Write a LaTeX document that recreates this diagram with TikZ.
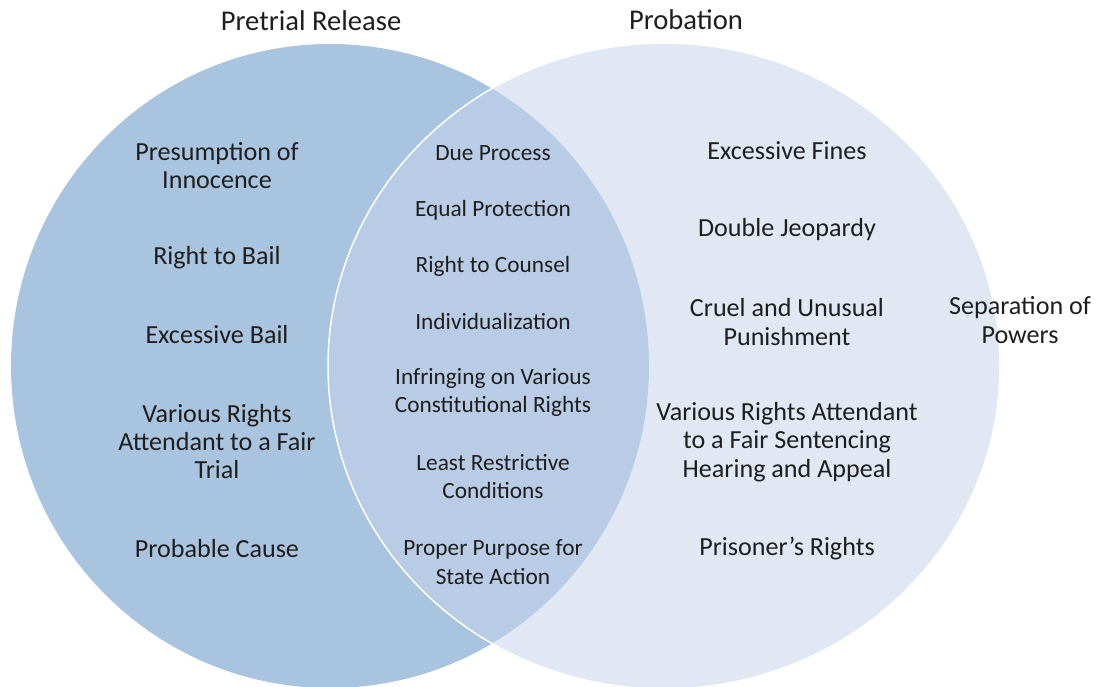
\documentclass[tikz,border=0pt]{standalone}
\usepackage{fontspec}
\setmainfont{Carlito}
\definecolor{leftblue}{RGB}{169,196,222}
\definecolor{rightblue}{RGB}{199,212,235}
\definecolor{txt}{RGB}{30,30,30}
\begin{document}
\begin{tikzpicture}[x=1bp,y=-1bp,
  outer/.style={align=center,text=txt,inner sep=0pt,font=\fontsize{26.2}{28.5}\selectfont},
  inner/.style={align=center,text=txt,inner sep=0pt,font=\fontsize{23.4}{28.5}\selectfont},
  title/.style={align=center,text=txt,inner sep=0pt,font=\fontsize{28.7}{30}\selectfont}]
\useasboundingbox (0,0) rectangle (1103,687);
% circles
\fill[leftblue] (330,366) ellipse [x radius=319bp, y radius=322bp];
\filldraw[fill=rightblue, fill opacity=0.54, draw=white, line width=1.5bp] (664,366) ellipse [x radius=336bp, y radius=323bp];
% titles
\node[title] (tl) at (311,21) {Pretrial Release};
\node[title] (tr) at (686,20) {Probation};
% left items
\node[outer] (l1) at (217,165.5) {Presumption of\\Innocence};
\node[outer] (l2) at (217,258) {Right to Bail};
\node[outer] (l3) at (217,335) {Excessive Bail};
\node[outer] (l4) at (217,441.5) {Various Rights\\Attendant to a Fair\\Trial};
\node[outer] (l5) at (217,549) {Probable Cause};
% center items
\node[inner] (c1) at (493,153) {Due Process};
\node[inner] (c2) at (493,210) {Equal Protection};
\node[inner] (c3) at (493,266) {Right to Counsel};
\node[inner] (c4) at (493,321) {Individualization};
\node[inner] (c5) at (493,392.5) {Infringing on Various\\Constitutional Rights};
\node[inner] (c6) at (493,476.5) {Least Restrictive\\Conditions};
\node[inner] (c7) at (493,562) {Proper Purpose for\\State Action};
% right items
\node[outer] (r1) at (787,151) {Excessive Fines};
\node[outer] (r2) at (787,230) {Double Jeopardy};
\node[outer] (r3) at (787,322) {Cruel and Unusual\\Punishment};
\node[outer] (r4) at (787,442) {Various Rights Attendant\\to a Fair Sentencing\\Hearing and Appeal};
\node[outer] (r5) at (787,549) {Prisoner’s Rights};
% outside
\node[outer] (s1) at (1020,320) {Separation of\\Powers};
\end{tikzpicture}
\end{document}
